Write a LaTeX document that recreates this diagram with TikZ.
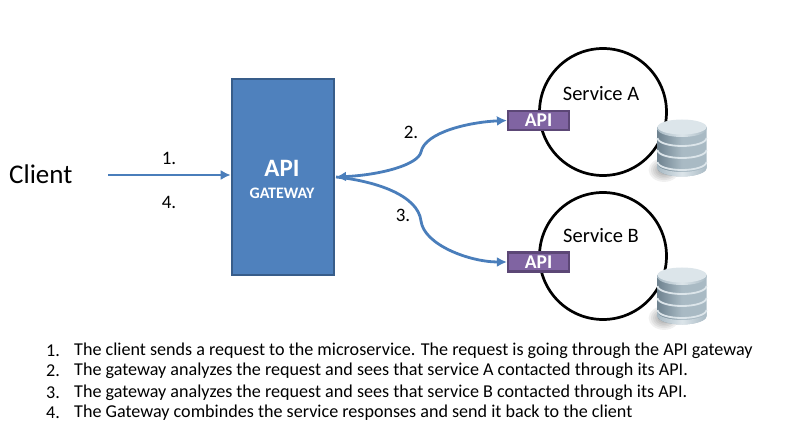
\documentclass[tikz,border=0pt]{standalone}
\usepackage{fontspec}
\setmainfont{Carlito}
\usetikzlibrary{arrows.meta,shadings}
\definecolor{gwfill}{HTML}{4F81BD}
\definecolor{gwline}{HTML}{385D8A}
\definecolor{apifill}{HTML}{8064A2}
\definecolor{apiline}{HTML}{5C4776}
\definecolor{arrowc}{HTML}{4A7EBB}
\definecolor{dbdark}{HTML}{6F8390}
\definecolor{dbmid}{HTML}{A9BAC4}
\definecolor{dblight}{HTML}{DCE5EA}
\tikzset{
  lbl/.style={font=\fontsize{19}{21}\selectfont,text=black,inner sep=0pt},
  svcname/.style={font=\fontsize{20.5}{22}\selectfont,text=black,inner sep=0pt},
  svc/.style={circle,draw=black,line width=2.7pt,fill=white,minimum size=127pt,inner sep=0pt},
  apibox/.style={draw=apiline,line width=2.2pt,fill=apifill,text=white,minimum width=61pt,minimum height=19pt,inner sep=0pt,font=\fontsize{19.5}{20}\bfseries\selectfont},
  tipp/.tip={Latex[length=10pt,width=10pt]},
  conn/.style={draw=arrowc,line width=2.8pt,-{tipp}},
  listline/.style={anchor=west,inner sep=0pt,font=\fontsize{18.1}{20}\selectfont},
  pics/dbstack/.style={code={
    \foreach \rr in {1,...,7}{
      \fill[black,opacity=.06] (-18,22) ellipse ({\rr*2.2} and {\rr*1.7});
    }
    % body
    \path[left color=dbdark,right color=dbmid,middle color=dbmid]
      (-24.5,-21) -- (-24.5,20) arc[start angle=180,end angle=0,x radius=24.5,y radius=8.5] -- (24.5,-21) -- cycle;
    % separators between the disks
    \foreach \yy in {-10,2,14}{
      \draw[dblight,line width=1.8pt] (-24.5,\yy) arc[start angle=180,end angle=0,x radius=24.5,y radius=8];
    }
    % bottom disk, lighter
    \path[left color=dbmid,right color=dbmid,middle color=dblight]
      (-24.5,16) arc[start angle=180,end angle=0,x radius=24.5,y radius=8] -- (24.5,20) arc[start angle=0,end angle=180,x radius=24.5,y radius=8.5] -- cycle;
    % top
    \path[left color=dbmid,right color=dbmid,middle color=dblight]
      (-24.5,-21) -- (-24.5,-19) arc[start angle=180,end angle=0,x radius=24.5,y radius=8] -- (24.5,-21) -- cycle;
    \fill[dblight] (0,-21) ellipse (24.5 and 7.5);
  }}
}
\begin{document}
\begin{tikzpicture}[x=1pt,y=-1pt]
\useasboundingbox (0,0) rectangle (789,443);
\node[svc] (svca) at (603,112) {};
\node[svc] (svcb) at (603,256) {};
\node[svcname] (namea) at (601,94) {Service A};
\node[svcname] (nameb) at (601,236) {Service B};
\node[apibox] (apia) at (538.5,120.5) {API};
\node[apibox] (apib) at (538.5,262) {API};
\pic (dba) at (682,148) {dbstack};
\pic (dbb) at (682,296) {dbstack};
\node[draw=gwline,line width=2.6pt,fill=gwfill,minimum width=102pt,minimum height=196pt,inner sep=0pt] (gw) at (283,177) {};
\node[text=white,font=\fontsize{25}{26}\bfseries\selectfont,inner sep=0pt] (gwa) at (282,168) {API};
\node[text=white,font=\fontsize{16}{18}\bfseries\selectfont,inner sep=0pt] (gwb) at (282,193) {GATEWAY};
\node[lbl,font=\fontsize{27}{29}\selectfont,anchor=west] (client) at (9,174) {Client};
\coordinate (cstart) at (108,175);
\draw[conn] (cstart) -- (gw.west |- cstart);
\node[lbl] (n1) at (169,158) {1.};
\node[lbl] (n4) at (169,202) {4.};
\node[lbl] (n2) at (411,132) {2.};
\node[lbl] (n3) at (403,215) {3.};
\coordinate (gwr) at (336,177);
\draw[draw=arrowc,line width=2.8pt,{tipp}-{tipp}]
  (gwr) .. controls (380,175) and (418,165) .. (421,152)
  .. controls (425,132) and (470,122) .. (apia.west);
\draw[conn] (gwr) .. controls (375,181) and (418,195) .. (421,221)
  .. controls (424,245) and (470,262) .. (apib.west);
\node[listline] (l1n) at (46,351) {1.};
\node[listline] (l1) at (74,351) {The client sends a request to the microservice. The request is going through the API gateway};
\node[listline] (l2n) at (46,371) {2.};
\node[listline] (l2) at (74,371) {The gateway analyzes the request and sees that service A contacted through its API.};
\node[listline] (l3n) at (46,393) {3.};
\node[listline] (l3) at (74,393) {The gateway analyzes the request and sees that service B contacted through its API.};
\node[listline] (l4n) at (46,413) {4.};
\node[listline] (l4) at (74,413) {The Gateway combindes the service responses and send it back to the client};
\end{tikzpicture}
\end{document}
